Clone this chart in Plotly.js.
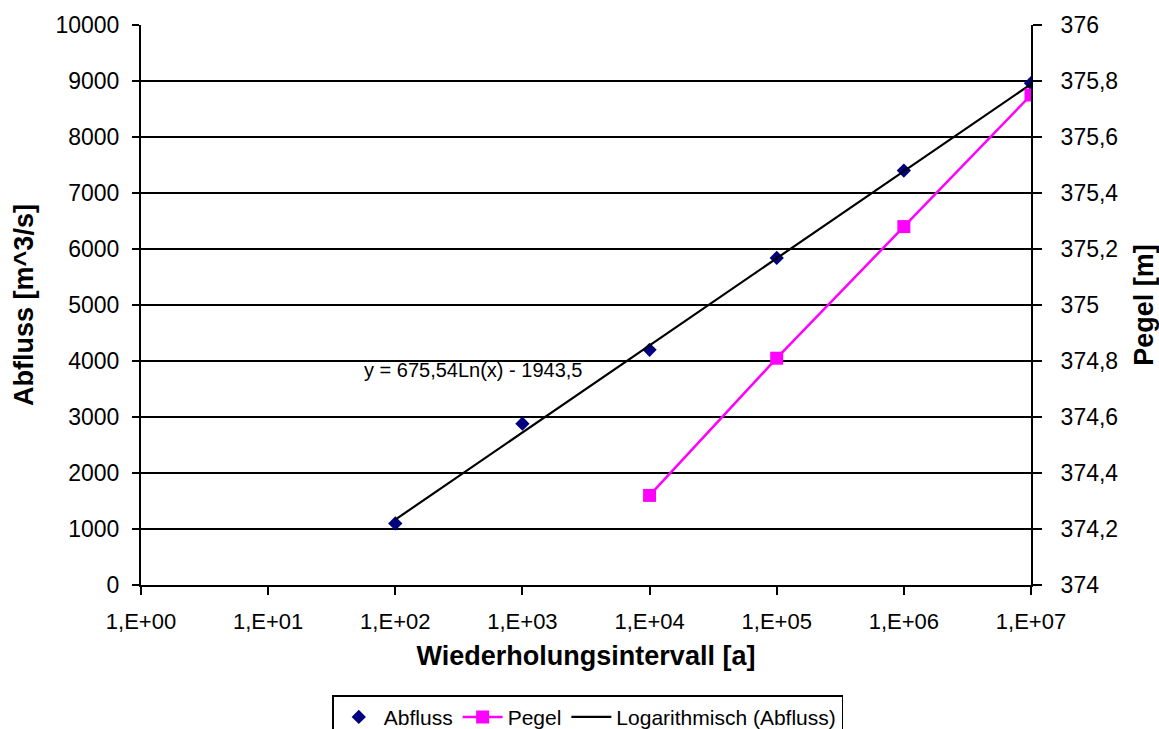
<!DOCTYPE html>
<html>
<head>
<meta charset="utf-8">
<script src="https://cdn.plot.ly/plotly-3.0.1.min.js"></script>
<style>html,body{margin:0;padding:0;background:#fff;}#chart{width:1159px;height:729px;}</style>
</head>
<body>
<div id="chart"></div>
<script>
// Data
const abflussX = [1e2, 1e3, 1e4, 1e5, 1e6, 1e7];
const abflussY = [1100, 2880, 4200, 5840, 7400, 8960];
const pegelX = [1e4, 1e5, 1e6, 1e7];
const pegelY = [374.32, 374.81, 375.28, 375.75];
const trendA = 675.54;
const trendB = -1943.5;
const xTickVals = [1e0, 1e1, 1e2, 1e3, 1e4, 1e5, 1e6, 1e7];
const xTickText = ["1,E+00", "1,E+01", "1,E+02", "1,E+03", "1,E+04", "1,E+05", "1,E+06", "1,E+07"];
const trendLabel = "y = 675,54Ln(x) - 1943,5";

// Logarithmic trend line over the Abfluss x-range (from the equation shown)
const trendX = [Math.min(...abflussX), Math.max(...abflussX)];
const trendY = trendX.map(x => trendA * Math.log(x) + trendB);

const font = "Liberation Sans, Arial, sans-serif";

const traces = [
  {
    x: abflussX, y: abflussY, name: "Abfluss", type: "scatter", mode: "markers",
    marker: {symbol: "diamond", size: 11, color: "#000080"}, yaxis: "y"
  },
  {
    x: pegelX, y: pegelY, name: "Pegel", type: "scatter", mode: "lines+markers",
    line: {color: "#FF00FF", width: 2.5},
    marker: {symbol: "square", size: 13, color: "#FF00FF"}, yaxis: "y2"
  },
  {
    x: trendX, y: trendY, name: "Logarithmisch (Abfluss)", type: "scatter", mode: "lines",
    line: {color: "#000000", width: 2.2}, yaxis: "y"
  }
];

const layout = {
  width: 1159, height: 729,
  margin: {l: 141, r: 128, t: 25, b: 144, autoexpand: false},
  paper_bgcolor: "#fff", plot_bgcolor: "#fff",
  separators: ",.",
  font: {family: font, color: "#000", size: 24},
  showlegend: true,
  legend: {
    orientation: "h", x: 0.502, xanchor: "center", y: -0.197, yanchor: "top",
    bordercolor: "#000", borderwidth: 1.5, font: {size: 21, family: font, color: "#000"},
    traceorder: "normal", bgcolor: "#fff", itemwidth: 40
  },
  xaxis: {
    type: "log", range: [0, 7], tickvals: xTickVals, ticktext: xTickText,
    showgrid: false, zeroline: false, showline: true, linecolor: "#000", linewidth: 2,
    ticks: "outside", ticklen: 8, tickwidth: 2, tickcolor: "#000",
    tickfont: {size: 22, family: font, color: "#000"}, ticklabelstandoff: 8,
    title: {text: "<b>Wiederholungsintervall [a]</b>", font: {size: 27, family: font, color: "#000"}, standoff: 13}
  },
  yaxis: {
    range: [0, 10000], dtick: 1000, tickformat: "d",
    showgrid: true, gridcolor: "#000", gridwidth: 1.5, zeroline: false,
    showline: true, linecolor: "#000", linewidth: 2,
    ticks: "outside", ticklen: 7, tickwidth: 1.5, tickcolor: "#000",
    tickfont: {size: 23, family: font, color: "#000"}, ticklabelstandoff: 8,
    title: {text: "<b>Abfluss [m^3/s]</b>", font: {size: 27, family: font, color: "#000"}, standoff: 14}
  },
  yaxis2: {
    overlaying: "y", side: "right", range: [374, 376], dtick: 0.2,
    showgrid: false, zeroline: false, showline: true, linecolor: "#000", linewidth: 2,
    ticks: "outside", ticklen: 9, tickwidth: 1.5, tickcolor: "#000",
    tickfont: {size: 23, family: font, color: "#000"}, ticklabelstandoff: 14,
    title: {text: "<b>Pegel [m]</b>", font: {size: 27, family: font, color: "#000"}, standoff: 20}
  },
  annotations: [{
    text: trendLabel, xref: "paper", yref: "paper", x: 0.248, y: 0.384,
    xanchor: "left", yanchor: "middle", showarrow: false,
    font: {size: 20, family: font, color: "#000"}
  }]
};

Plotly.newPlot("chart", traces, layout, {displayModeBar: false, staticPlot: true});
</script>
</body>
</html>
